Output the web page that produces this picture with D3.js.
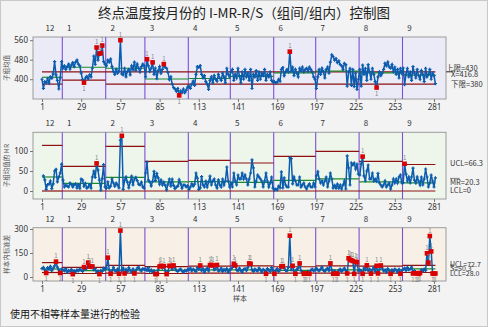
<!DOCTYPE html>
<html>
<head>
<meta charset="utf-8">
<script src="https://cdn.jsdelivr.net/npm/d3@7"></script>
<style>
  body { margin: 0; background: #f3f3f3; }
  svg { display: block; font-family: "Noto Sans CJK SC", "Noto Sans", sans-serif; }
</style>
</head>
<body>
<svg id="chart" width="488" height="327"></svg>
<script>
// Stages (months) and the number of subgroups in each
const months = ["12", "1", "2", "3", "4", "5", "6", "7", "8", "9"];
const stageSizes = [15, 31, 28, 31, 30, 31, 30, 31, 31, 24];
const xTicks = [1, 29, 57, 85, 113, 141, 169, 197, 225, 253, 281];

// Subgroup means of the end-point temperature
const subgroupMeans = [
  400, 362, 390, 386, 402, 385, 410, 404, 422, 472, 418, 395, 360, 405, 472,
  445, 455, 440, 452, 462, 442, 458, 468, 452, 470, 478, 462, 455, 425, 398, 386, 405, 412, 402, 418, 410, 445, 495, 461, 530, 478, 505, 507, 538, 472, 462,
  455, 478, 470, 482, 452, 432, 420, 440, 425, 433, 560, 422, 418, 445, 410, 432, 440, 418, 455, 440, 470, 436, 462, 445, 430, 452, 462, 455,
  410, 482, 455, 432, 445, 469, 420, 446, 402, 435, 452, 425, 440, 462, 448, 445, 428, 398, 410, 380, 366, 360, 350, 362, 334, 352, 345, 360, 345, 355, 368,
  372, 362, 380, 392, 375, 420, 452, 448, 456, 420, 405, 415, 390, 380, 358, 395, 410, 385, 415, 400, 392, 420, 405, 395, 425, 410, 385, 445, 420, 410,
  430, 440, 395, 420, 405, 445, 415, 385, 430, 400, 440, 410, 425, 395, 440, 362, 420, 410, 435, 395, 430, 400, 425, 415, 440, 395, 420, 410, 430, 395, 388,
  390, 385, 388, 400, 392, 440, 448, 415, 430, 440, 430, 513, 432, 450, 415, 440, 425, 410, 445, 435, 450, 430, 440, 445, 432, 450, 440, 430, 410, 400,
  362, 410, 440, 420, 445, 430, 405, 440, 450, 425, 470, 500, 492, 478, 485, 468, 475, 460, 455, 440, 465, 460, 372, 430, 445, 375, 440, 370, 425, 358, 400,
  440, 372, 458, 420, 445, 395, 460, 430, 400, 445, 420, 390, 366, 410, 430, 415, 425, 440, 465, 455, 470, 450, 445, 460, 430, 450, 420, 440, 405, 445, 425,
  446, 378, 420, 445, 410, 430, 395, 452, 425, 405, 440, 415, 400, 435, 420, 390, 445, 410, 420, 440, 400, 425, 415, 382
];

// Within-subgroup standard deviations
const withinStdDev = [
  52, 60, 45, 25, 58, 48, 66, 40, 55, 70, 96, 62, 45, 25, 50,
  45, 38, 52, 30, 42, 35, 48, 18, 40, 32, 45, 38, 50, 42, 35, 62, 48, 55, 90, 65, 58, 66, 45, 52, 30, 38, 18, 42, 35, 55, 48,
  55, 121, 45, 20, 38, 60, 42, 35, 50, 20, 290, 40, 55, 22, 48, 35, 58, 42, 30, 50, 22, 40, 55, 62, 45, 38, 52, 48,
  50, 40, 58, 35, 45, 30, 40, 18, 19, 45, 66, 70, 55, 68, 40, 18, 35, 70, 68, 48, 72, 55, 40, 35, 45, 50, 38, 30, 42, 36, 48,
  45, 55, 38, 50, 42, 35, 58, 48, 72, 40, 52, 30, 45, 55, 38, 74, 76, 72, 45, 50, 75, 38, 42, 55, 35, 48, 40, 52, 30, 45,
  50, 60, 83, 72, 45, 38, 55, 42, 30, 48, 52, 40, 58, 85, 82, 45, 35, 50, 42, 38, 55, 45, 30, 48, 40, 20, 52, 45, 35, 58, 42,
  20, 40, 52, 35, 45, 66, 68, 55, 42, 38, 60, 258, 45, 70, 38, 20, 48, 55, 85, 40, 32, 20, 22, 21, 35, 20, 42, 50, 38, 45,
  55, 45, 38, 50, 62, 42, 35, 48, 55, 40, 85, 45, 20, 38, 22, 20, 42, 50, 35, 45, 55, 40, 22, 117, 108, 104, 100, 20, 95, 92, 38,
  45, 38, 20, 55, 45, 73, 40, 50, 21, 45, 60, 35, 70, 22, 48, 72, 55, 38, 45, 30, 52, 40, 20, 45, 35, 50, 42, 30, 48, 20, 40,
  48, 55, 40, 60, 45, 50, 62, 22, 40, 24, 22, 20, 25, 45, 35, 50, 42, 148, 90, 256, 160, 22, 20, 22
];

// Individuals chart of subgroup means: centre line per stage and reference limits
const meanCenter = [408, 449, 445, 401, 403, 412, 426, 433, 426, 416.8];
const meanUpperLine = 430;
const meanLowerLine = [380, 396, 380, 380, 380, 380, 380, 380, 380, 380];
const meanFlagged = [31, 40, 42, 43, 44, 57, 76, 80, 88, 99, 178, 240];

// Moving range chart: centre line and upper limit per stage
const mrCenter = [35, 18.9, 34.2, 22.7, 23.5, 21.4, 26.5, 30.4, 22.7, 20.3];
const mrUpper = [114, 61.7, 111.7, 74.2, 76.7, 70, 86.7, 99.2, 74.2, 66.3];
const mrFlagged = [40, 58, 230, 260];

// Within-subgroup standard deviation chart: limits per stage
const sCenter = [50, 40, 45, 42, 44, 45, 42, 45, 45, 50.3];
const sUpper = [90, 60, 72, 65, 68, 70, 64, 70, 68, 72.7];
const sLower = [28, 22, 24, 22, 24, 24, 24, 24, 24, 28.0];

const W = 488, H = 327;
const svg = d3.select("#chart");
svg.append("rect").attr("width", W).attr("height", H).attr("fill", "#f3f3f3");
svg.append("rect").attr("x", 0.5).attr("y", 0.5).attr("width", W - 1).attr("height", H - 1)
  .attr("fill", "none").attr("stroke", "#c8c8c8");

const BLUE = "#0b5cad", DARKRED = "#8e1010", GREEN = "#1c8a2a", PURPLE = "#7d4fd6", FLAG = "#d80000";

// stage boundaries in sample numbers
const stages = [];
let acc = 1;
stageSizes.forEach((n, i) => { stages.push({ label: months[i], start: acc, end: acc + n - 1 }); acc += n; });
const N = subgroupMeans.length;

const x = d3.scaleLinear().domain([1, 281]).range([42, 434]);
const frameL = 33, frameR = 446;

function stageSpan(i) {
  const s = stages[i];
  const x0 = i === 0 ? x(1) : x(s.start - 0.5);
  const x1 = i === stages.length - 1 ? x(N) : x(s.end + 0.5);
  return [x0, x1];
}

function panel(cfg) {
  const y = d3.scaleLinear().domain(cfg.domain).range([cfg.bottom, cfg.top]);
  const g = svg.append("g");
  g.append("rect").attr("x", frameL).attr("y", cfg.top)
    .attr("width", frameR - frameL).attr("height", cfg.bottom - cfg.top)
    .attr("fill", cfg.bg).attr("stroke", "#9c9c9c").attr("stroke-width", 1);

  // stage dividers
  g.selectAll("line.div").data(stages.slice(1)).join("line")
    .attr("x1", d => x(d.start - 0.5)).attr("x2", d => x(d.start - 0.5))
    .attr("y1", cfg.top).attr("y2", cfg.bottom)
    .attr("stroke", PURPLE).attr("stroke-width", 1.1);

  // stage labels above the frame
  g.selectAll("text.stage").data(stages).join("text")
    .attr("x", (d, i) => i === 0 ? x(d.start) + 8 : x(d.start - 0.5) + 7)
    .attr("y", cfg.top - 6)
    .attr("text-anchor", "middle").attr("font-size", 8).attr("fill", "#333")
    .text(d => d.label);

  // axes
  const yAxis = g.append("g").attr("transform", `translate(${frameL},0)`)
    .call(d3.axisLeft(y).tickValues(cfg.ticks).tickSize(3).tickPadding(2).tickSizeOuter(0));
  const xAxis = g.append("g").attr("transform", `translate(0,${cfg.bottom})`)
    .call(d3.axisBottom(x).tickValues(xTicks).tickSize(3).tickPadding(2).tickSizeOuter(0));
  [yAxis, xAxis].forEach(a => {
    a.select(".domain").remove();
    a.selectAll("line").attr("stroke", "#777");
    a.selectAll("text").attr("font-size", 8).attr("fill", "#333")
      .attr("font-family", "'Noto Sans', sans-serif");
  });

  // y axis title
  g.append("text").attr("transform", `translate(9,${(cfg.top + cfg.bottom) / 2}) rotate(-90)`)
    .attr("text-anchor", "middle").attr("font-size", 6.5).attr("fill", "#555").text(cfg.title);
  return { g, y };
}

function stageLines(g, y, values, color, width) {
  g.append("g").selectAll("line").data(values).join("line")
    .attr("x1", (d, i) => stageSpan(i)[0]).attr("x2", (d, i) => stageSpan(i)[1])
    .attr("y1", d => y(d)).attr("y2", d => y(d))
    .attr("stroke", color).attr("stroke-width", width);
}

function series(g, y, vals) {
  const pts = vals.map((v, i) => ({ s: i + 1, v })).filter(d => d.v != null);
  g.append("path").datum(pts)
    .attr("d", d3.line().x(d => x(d.s)).y(d => y(d.v)))
    .attr("fill", "none").attr("stroke", BLUE).attr("stroke-width", 1.5);
  // plus-shaped point markers
  g.append("g").selectAll("path").data(pts).join("path")
    .attr("d", d => `M${x(d.s) - 1.6},${y(d.v)}h3.2M${x(d.s)},${y(d.v) - 1.6}v3.2`)
    .attr("stroke", BLUE).attr("stroke-width", 1.2);
}

function flags(g, y, vals, idx, below) {
  const pts = idx.map(s => ({ s, v: vals[s - 1], low: below ? below(s) : false }));
  g.append("g").selectAll("rect").data(pts).join("rect")
    .attr("x", d => x(d.s) - 2.3).attr("y", d => y(d.v) - 2.3)
    .attr("width", 4.6).attr("height", 4.6).attr("fill", FLAG);
  g.append("g").selectAll("text").data(pts).join("text")
    .attr("x", d => x(d.s)).attr("y", d => d.low ? y(d.v) + 8.5 : y(d.v) - 3.5)
    .attr("text-anchor", "middle").attr("font-size", 6).attr("fill", "#888").text("1");
}

function stageOf(s) { return stages.findIndex(st => s >= st.start && s <= st.end); }

function rightLabel(text, xPos, yPos, bar, size) {
  svg.append("text").attr("x", xPos).attr("y", yPos).attr("font-size", size || 7.5)
    .attr("fill", "#333").attr("dominant-baseline", "middle").text(text);
  if (bar) {
    svg.append("line").attr("x1", xPos).attr("x2", xPos + bar)
      .attr("y1", yPos - 4.3).attr("y2", yPos - 4.3).attr("stroke", "#333").attr("stroke-width", 0.6);
  }
}

// Title
svg.append("text").attr("x", 244).attr("y", 18).attr("text-anchor", "middle")
  .attr("font-size", 13.5).attr("fill", "#222").text("终点温度按月份的 I-MR-R/S（组间/组内）控制图");

// ---- Panel 1: subgroup means ----
const p1 = panel({ top: 37, bottom: 99, domain: [319, 573], ticks: [400, 480, 560], bg: "#ebebf8", title: "子组均值" });
p1.g.append("line").attr("x1", x(1)).attr("x2", x(N))
  .attr("y1", p1.y(meanUpperLine)).attr("y2", p1.y(meanUpperLine))
  .attr("stroke", DARKRED).attr("stroke-width", 1.2);
stageLines(p1.g, p1.y, meanLowerLine, DARKRED, 1.2);
stageLines(p1.g, p1.y, meanCenter, GREEN, 1.2);
series(p1.g, p1.y, subgroupMeans);
flags(p1.g, p1.y, subgroupMeans, meanFlagged, s => subgroupMeans[s - 1] < 400);
svg.append("line").attr("x1", frameR).attr("x2", frameR + 6)
  .attr("y1", p1.y(meanUpperLine)).attr("y2", p1.y(meanUpperLine)).attr("stroke", "#333").attr("stroke-width", 0.8);
rightLabel("上限=430", 446, 68.5);
rightLabel("X=416.8", 451, 75, 4.5);
rightLabel("下限=380", 451, 84.5);

// ---- Panel 2: moving range of subgroup means ----
const movingRange = subgroupMeans.map((v, i) => i === 0 ? null : Math.abs(v - subgroupMeans[i - 1]));
const p2 = panel({ top: 132.3, bottom: 199, domain: [-20, 146.75], ticks: [0, 50, 100], bg: "#eef6ec", title: "子组均值的 MR" });
stageLines(p2.g, p2.y, mrUpper, DARKRED, 1.2);
stageLines(p2.g, p2.y, stages.map(() => 0), DARKRED, 1.2);
stageLines(p2.g, p2.y, mrCenter, GREEN, 1.2);
series(p2.g, p2.y, movingRange);
flags(p2.g, p2.y, movingRange, mrFlagged);
rightLabel("UCL=66.3", 450, 164);
rightLabel("MR=20.3", 450, 182.7, 9.5);
rightLabel("LCL=0", 450, 190.8);

// ---- Panel 3: within-subgroup standard deviation ----
const p3 = panel({ top: 227.7, bottom: 281, domain: [-25, 308], ticks: [0, 150, 300], bg: "#f8f0e6", title: "样本内标准差" });
stageLines(p3.g, p3.y, sUpper, DARKRED, 1.2);
stageLines(p3.g, p3.y, sLower, DARKRED, 1.2);
stageLines(p3.g, p3.y, sCenter, GREEN, 1.2);
series(p3.g, p3.y, withinStdDev);
const sFlagged = withinStdDev.map((v, i) => ({ s: i + 1, v }))
  .filter(d => { const k = stageOf(d.s); return d.v > sUpper[k] || d.v < sLower[k]; })
  .map(d => d.s);
flags(p3.g, p3.y, withinStdDev, sFlagged, s => withinStdDev[s - 1] < sLower[stageOf(s)]);
rightLabel("UCL=72.7", 450, 264.8, 0, 7);
rightLabel("S=50.3", 450, 269.2, 4, 7);
rightLabel("LCL=28.0", 450, 273.6, 0, 7);

svg.append("text").attr("x", 240).attr("y", 301).attr("text-anchor", "middle")
  .attr("font-size", 7).attr("fill", "#444").text("样本");

svg.append("text").attr("x", 10).attr("y", 318).attr("font-size", 10).attr("fill", "#111")
  .text("使用不相等样本量进行的检验");
</script>
</body>
</html>
